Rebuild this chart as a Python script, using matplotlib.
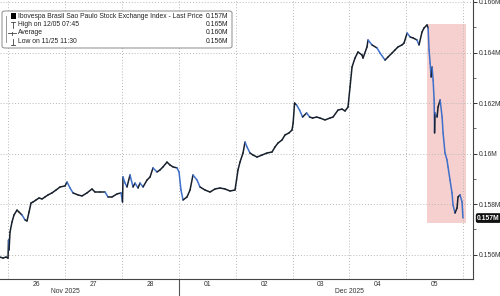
import matplotlib
matplotlib.use("Agg")
import matplotlib.pyplot as plt
from matplotlib.collections import LineCollection
from matplotlib.patches import Rectangle, FancyBboxPatch
from matplotlib.ticker import FixedLocator, FuncFormatter
import numpy as np

plt.rcParams["font.family"] = ["Liberation Sans", "DejaVu Sans"]

# ---- data -------------------------------------------------------------
# position in trading days (0 = start of 25 Nov 2025), index level
day_pos = [0.859, 0.912, 0.965, 1.000, 1.009, 1.018, 1.035, 1.070, 1.105, 1.158,
           1.193, 1.246, 1.299, 1.334, 1.369, 1.404, 1.439, 1.492, 1.545, 1.598,
           1.650, 1.703, 1.773, 1.844, 1.914, 2.002, 2.037, 2.090, 2.142, 2.230,
           2.301, 2.388, 2.476, 2.529, 2.617, 2.705, 2.757, 2.828, 2.916, 2.986,
           3.012, 3.021, 3.056, 3.091, 3.144, 3.197, 3.232, 3.285, 3.320, 3.373,
           3.443, 3.496, 3.548, 3.619, 3.671, 3.724, 3.794, 3.847, 3.900, 3.970,
           4.005, 4.040, 4.076, 4.146, 4.199, 4.251, 4.322, 4.374, 4.462, 4.550,
           4.638, 4.726, 4.814, 4.902, 4.989, 5.016, 5.042, 5.077, 5.130, 5.165,
           5.200, 5.253, 5.306, 5.376, 5.464, 5.552, 5.640, 5.692, 5.745, 5.815,
           5.868, 5.938, 5.991, 6.011, 6.036, 6.071, 6.124, 6.177, 6.248, 6.301,
           6.353, 6.424, 6.483, 6.571, 6.659, 6.712, 6.800, 6.870, 6.923, 6.975,
           7.011, 7.046, 7.098, 7.151, 7.221, 7.239, 7.309, 7.327, 7.397, 7.485,
           7.538, 7.626, 7.678, 7.749, 7.801, 7.854, 7.924, 7.960, 8.014, 8.067,
           8.120, 8.188, 8.223, 8.276, 8.311, 8.364, 8.383, 8.400, 8.418, 8.436,
           8.453, 8.471, 8.489, 8.497, 8.505, 8.541, 8.558, 8.594, 8.629, 8.646,
           8.680, 8.715, 8.733, 8.768, 8.803, 8.821, 8.856, 8.891, 8.909, 8.944,
           8.979, 8.996]
price = [155900, 155860, 155900, 155860, 156575, 156180, 156890, 157290, 157565, 157760,
         157680, 157565, 157370, 157330, 157680, 158040, 158080, 158160, 158240, 158200,
         158280, 158360, 158440, 158555, 158675, 158715, 158870, 158635, 158440, 158360,
         158320, 158440, 158595, 158475, 158475, 158475, 158280, 158280, 158400, 158440,
         158080, 159070, 158830, 158675, 159150, 158675, 158830, 158635, 158830, 158675,
         158950, 159070, 159430, 159270, 159350, 159470, 159660, 159545, 159470, 159430,
         159270, 158555, 158160, 158280, 158555, 159150, 158950, 158675, 158555, 158475,
         158595, 158635, 158595, 158515, 158555, 158950, 159350, 159660, 160020, 160455,
         160260, 160020, 159940, 159860, 159940, 160020, 160060, 160260, 160415, 160535,
         160735, 160815, 160930, 161210, 162000, 161920, 161720, 161445, 161605, 161445,
         161405, 161445, 161405, 161330, 161405, 161445, 161720, 161760, 161685, 161840,
         162635, 163425, 163780, 164020, 163900, 163780, 164220, 164495, 164300, 164180,
         163980, 163700, 163820, 163980, 164100, 164220, 164300, 164375, 164770, 164615,
         164575, 164495, 164300, 164810, 164970, 165090, 164970, 164100, 163585, 163030,
         163425, 162910, 162120, 160815, 161605, 161445, 161840, 162120, 161445, 160815,
         160020, 159745, 159470, 158950, 158440, 157960, 157645, 157840, 158280, 158360,
         158080, 157445]

day_labels = ["26", "27", "28", "01", "02", "03", "04", "05"]
month_labels = ["Nov 2025", "Dec 2025"]
y_ticks = [156000, 158000, 160000, 162000, 164000, 166000]

legend_names = ["Ibovespa Brasil Sao Paulo Stock Exchange Index - Last Price",
                "High on 12/05 07:45", "Average", "Low on 11/25 11:30"]
legend_values = ["0.157M", "0.165M", "0.160M", "0.156M"]
last_label = "0.157M"

assert len(day_pos) == len(price)

FS = 4.9
TXT = "#333333"

# ---- figure -------------------------------------------------------------
W, H = 500, 296
fig = plt.figure(figsize=(W / 100, H / 100), dpi=100)
ax = fig.add_axes([0, 1 - 279 / H, 473 / W, 279 / H])

x = np.array(day_pos)
y = np.array(price, dtype=float)

ax.set_xlim(0.859, 9.172)
ax.set_ylim(155031, 166079)

# highlight box
ax.add_patch(Rectangle((8.364, 157250), 9.05 - 8.364, 165130 - 157250,
                       facecolor="#f5d0cf", edgecolor="none", zorder=0.5))

# line: dark for up-moves, blue for down-moves
pts = np.column_stack([x, y]).reshape(-1, 1, 2)
segs = np.concatenate([pts[:-1], pts[1:]], axis=1)
cols = ["#3f6fc9" if y[i + 1] < y[i] - 150 else "#17202c" for i in range(len(y) - 1)]
ax.add_collection(LineCollection(segs, colors=cols, linewidths=1.1, zorder=3,
                                 capstyle="round", joinstyle="round"))

# grid
day_bounds = np.arange(1, 10)
ax.xaxis.set_major_locator(FixedLocator(day_bounds))
ax.xaxis.set_minor_locator(FixedLocator(np.arange(1.5, 9.0, 1.0)))
ax.set_xticklabels([])
ax.set_xticklabels(day_labels, minor=True)
ax.tick_params(axis="x", which="major", length=0)
ax.tick_params(axis="x", which="minor", length=0, pad=1.8, labelsize=FS,
               labelcolor=TXT)
ax.grid(True, axis="x", which="major", color="#b8b8b8", linestyle=(0, (1, 2)),
        linewidth=0.7)

ax.yaxis.tick_right()
ax.yaxis.set_major_locator(FixedLocator(y_ticks))
ax.yaxis.set_minor_locator(FixedLocator([155000, 157000, 159000, 161000, 163000, 165000]))
ax.yaxis.set_major_formatter(FuncFormatter(lambda v, p: f"{v / 1e6:g}M"))
ax.tick_params(axis="y", which="major", length=3, width=0.7, color=TXT,
               pad=1, labelsize=FS, labelcolor=TXT)
ax.tick_params(axis="y", which="minor", length=2, width=0.6, color="#555555")
ax.grid(True, axis="y", which="major", color="#b8b8b8", linestyle=(0, (1, 2)),
        linewidth=0.7)

for s in ["top", "left"]:
    ax.spines[s].set_visible(False)
for s in ["bottom", "right"]:
    ax.spines[s].set_color("#444444")
    ax.spines[s].set_linewidth(0.8)

# month labels and separator
for pos, lab in zip([2.0, 7.0], month_labels):
    ax.text(pos, -12.5 / 279, lab, transform=ax.get_xaxis_transform(), ha="center",
            va="center", fontsize=FS, color=TXT)
ax.plot([4.0, 4.0], [0, -0.07], transform=ax.get_xaxis_transform(),
        color="#555555", linewidth=0.8, clip_on=False)

# last price tag
ax.annotate(last_label, xy=(1.0, y[-1]), xycoords=("axes fraction", "data"),
            xytext=(3.0, 0), textcoords="offset points", ha="left", va="center",
            fontsize=FS, color="white", fontweight="bold",
            bbox=dict(boxstyle="round,pad=0.2,rounding_size=0.3",
                      facecolor="#111111", edgecolor="none"))

# legend box
lx0, ly0, lx1, ly1 = 2 / W, 1 - 48 / H, 232 / W, 1 - 11 / H
fig.patches.append(FancyBboxPatch((lx0, ly0), lx1 - lx0, ly1 - ly0,
                                  boxstyle="round,pad=0,rounding_size=0.006",
                                  transform=fig.transFigure, facecolor="white",
                                  edgecolor="#8a8a8a", linewidth=0.7, zorder=5))
rows = [16, 25, 33, 41.5]
for r, name, val in zip(rows, legend_names, legend_values):
    fy = 1 - r / H
    fig.text(18 / W, fy, name, ha="left", va="center", fontsize=FS,
             color="#222222", zorder=6)
    fig.text(228 / W, fy, val, ha="right", va="center", fontsize=FS,
             color="#222222", zorder=6)
# tree connector
fig.add_artist(plt.Line2D([6 / W, 6 / W], [1 - 16 / H, 1 - 41.5 / H],
                          transform=fig.transFigure, color="#888888",
                          linewidth=0.6, zorder=6))
fig.add_artist(Rectangle((11 / W, 1 - 19 / H), 5 / W, 6 / H,
                         transform=fig.transFigure, facecolor="black",
                         edgecolor="none", zorder=6))
# high marker
fig.add_artist(plt.Line2D([10.5 / W, 14.5 / W], [1 - 22 / H, 1 - 22 / H],
                          transform=fig.transFigure, color="#444444", lw=0.6, zorder=6))
fig.add_artist(plt.Line2D([12.5 / W, 12.5 / W], [1 - 22 / H, 1 - 28 / H],
                          transform=fig.transFigure, color="#444444", lw=0.6, zorder=6))
# average marker
fig.add_artist(plt.Line2D([8 / W, 16 / W], [1 - 33 / H, 1 - 33 / H],
                          transform=fig.transFigure, color="#444444", lw=0.6, zorder=6))
fig.add_artist(plt.Line2D([12 / W, 12 / W], [1 - 31.5 / H, 1 - 34.5 / H],
                          transform=fig.transFigure, color="#444444", lw=0.6, zorder=6))
# low marker
fig.add_artist(plt.Line2D([10.5 / W, 14.5 / W], [1 - 44.5 / H, 1 - 44.5 / H],
                          transform=fig.transFigure, color="#444444", lw=0.6, zorder=6))
fig.add_artist(plt.Line2D([12.5 / W, 12.5 / W], [1 - 38.5 / H, 1 - 44.5 / H],
                          transform=fig.transFigure, color="#444444", lw=0.6, zorder=6))

fig.savefig("out.png", dpi=100)
